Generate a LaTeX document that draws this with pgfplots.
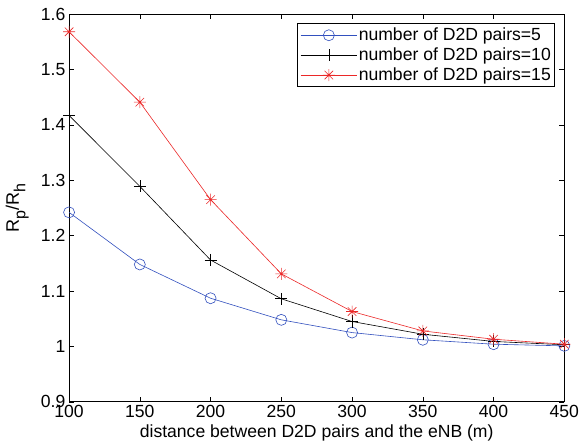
\documentclass[border=0pt]{standalone}
\usepackage{fontspec}
\setmainfont{Liberation Sans}
\usepackage{pgfplots}
\pgfplotsset{compat=1.18}
\definecolor{mblue}{RGB}{50,80,190}
\definecolor{mred}{RGB}{235,40,40}
\newcommand{\lsub}[1]{\raisebox{-6.5bp}{\fontsize{16bp}{16bp}\selectfont #1}}
\pgfdeclareplotmark{mstar}{%
  \pgfpathmoveto{\pgfqpoint{-\pgfplotmarksize}{0pt}}%
  \pgfpathlineto{\pgfqpoint{\pgfplotmarksize}{0pt}}%
  \pgfpathmoveto{\pgfqpoint{0pt}{-\pgfplotmarksize}}%
  \pgfpathlineto{\pgfqpoint{0pt}{\pgfplotmarksize}}%
  \pgfpathmoveto{\pgfqpoint{-0.707\pgfplotmarksize}{-0.707\pgfplotmarksize}}%
  \pgfpathlineto{\pgfqpoint{0.707\pgfplotmarksize}{0.707\pgfplotmarksize}}%
  \pgfpathmoveto{\pgfqpoint{-0.707\pgfplotmarksize}{0.707\pgfplotmarksize}}%
  \pgfpathlineto{\pgfqpoint{0.707\pgfplotmarksize}{-0.707\pgfplotmarksize}}%
  \pgfusepathqstroke}
\begin{document}
\fontsize{17.5bp}{20bp}\selectfont
\begin{tikzpicture}
\begin{axis}[
  scale only axis,
  width=493bp, height=386bp,
  xmin=100, xmax=450, ymin=0.9, ymax=1.6,
  xtick={100,150,...,450},
  ytick={0.9,1.0,1.1,1.2,1.3,1.4,1.5,1.6},
  tick align=inside,
  major tick length=5bp,
  axis line style={line width=0.9bp},
  tick style={line width=0.6bp, black},
  /pgf/number format/assume math mode=true,
  yticklabel style={/pgf/number format/fixed, /pgf/number format/precision=1, inner sep=2bp, xshift=-1.5bp},
  xticklabel style={/pgf/number format/fixed, inner sep=2bp, yshift=-1bp},
  xlabel={distance between D2D pairs and the eNB (m)},
  ylabel={R\lsub{p}/R\lsub{h}},
  xlabel style={yshift=1bp},
  ylabel style={yshift=4bp, font=\fontsize{18bp}{20bp}\selectfont},
  legend style={at={(1,1)}, anchor=north east, xshift=-9bp, yshift=-9bp,
    draw=black, line width=0.9bp, font=\fontsize{17.5bp}{20bp}\selectfont,
    row sep=1.5bp, inner sep=2.5bp, nodes={inner sep=1.5bp}},
  legend cell align=left,
  legend image code/.code={
    \draw[mark repeat=2, mark phase=2, #1] plot coordinates {(0bp,0bp) (28bp,0bp) (56bp,0bp)};
  },
]
\addplot[mblue, line width=0.6bp, mark=o, mark size=5.5bp, mark options={line width=0.6bp}] coordinates {
(100,1.242) (150,1.148) (200,1.087) (250,1.048) (300,1.025) (350,1.012) (400,1.004) (450,1.001)};
\addlegendentry{number of D2D pairs=5}
\addplot[black, line width=0.6bp, mark=+, mark size=6bp, mark options={line width=0.6bp}] coordinates {
(100,1.417) (150,1.289) (200,1.156) (250,1.086) (300,1.045) (350,1.022) (400,1.009) (450,1.003)};
\addlegendentry{number of D2D pairs=10}
\addplot[mred, line width=0.6bp, mark=mstar, mark size=6bp, mark options={line width=0.6bp}] coordinates {
(100,1.568) (150,1.441) (200,1.265) (250,1.131) (300,1.063) (350,1.028) (400,1.013) (450,1.004)};
\addlegendentry{number of D2D pairs=15}
\end{axis}
\path ([yshift=14bp]current axis.north east);
\end{tikzpicture}
\end{document}
